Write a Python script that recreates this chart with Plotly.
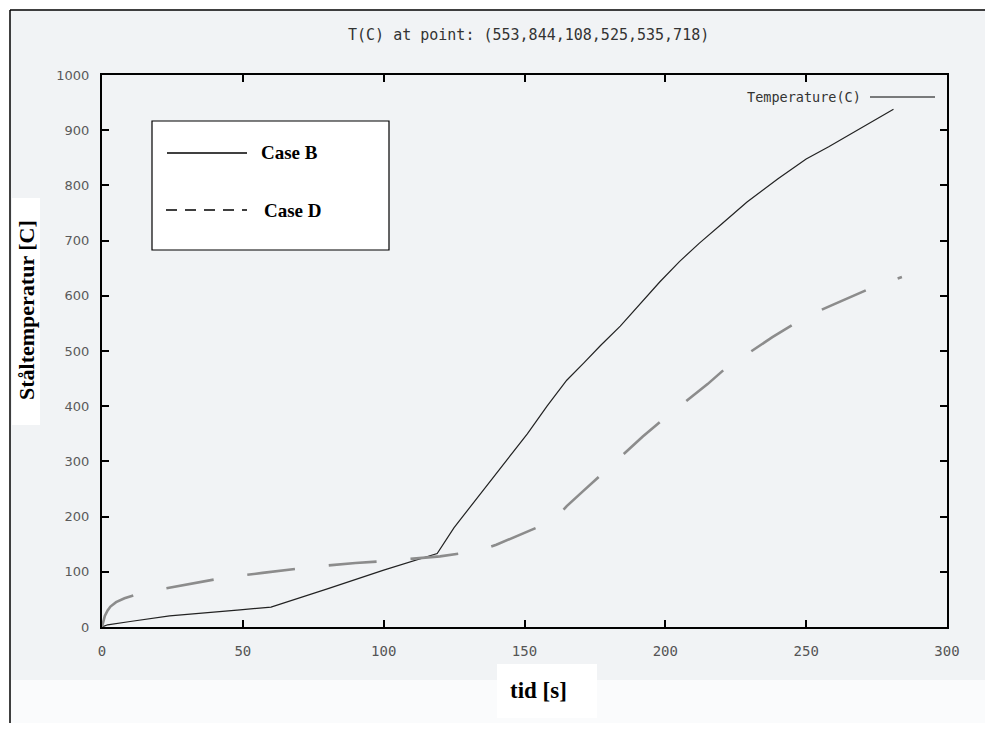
"""
plot.py
------------------------------------
Steel temperature, Case B vs Case D
"""

import plotly.graph_objects as go


# --------------------------------------------------
# Data
# --------------------------------------------------

case_b_time = [0, 2, 10, 24, 49, 60, 80, 100, 119, 125, 134, 141, 147,
               151, 158, 165, 171, 177, 184, 190, 198, 205, 212, 220,
               229, 240, 250, 258, 265, 273, 281]
case_b_temp = [0, 4, 10, 20, 31, 36, 69, 103, 133, 180, 239, 285, 324,
               350, 400, 447, 478, 510, 545, 580, 625, 662, 695, 730,
               770, 812, 848, 870, 891, 914, 938]

case_d_time = [0, 0.5, 1, 2, 3, 5, 8, 14, 25, 43, 57, 75, 90, 102, 120,
               134, 140, 150, 158, 162, 165, 171, 177, 186, 192, 198,
               208, 215, 221, 231, 238, 245, 253, 260, 266, 273, 284]
case_d_temp = [0, 12, 20, 30, 37, 45, 52, 62, 72, 89, 98, 109, 116, 120,
               128, 138, 149, 170, 188, 202, 219, 247, 275, 318, 345,
               371, 411, 440, 467, 502, 525, 547, 569, 585, 598, 614, 634]

x_ticks = [0, 50, 100, 150, 200, 250, 300]
y_ticks = [0, 100, 200, 300, 400, 500, 600, 700, 800, 900, 1000]

title_text = "T(C) at point: (553,844,108,525,535,718)"
x_label = "tid [s]"
y_label = "Ståltemperatur [C]"
gnuplot_key = "Temperature(C)"
case_labels = ["Case B", "Case D"]


# --------------------------------------------------
# Page geometry helpers (screen pixels -> paper)
# --------------------------------------------------

OFF = 8                       # page body margin
W, H = 993 - 2 * OFF, 731 - 2 * OFF
X0, X1, Y0, Y1 = 102, 947, 75, 627   # plot box on screen
L, T = X0 - OFF, Y0 - OFF
R, B = W - (X1 - OFF), H - (Y1 - OFF)


def px(x):
    return (x - X0) / (X1 - X0)


def py(y):
    return (Y1 - y) / (Y1 - Y0)


# --------------------------------------------------
# Figure
# --------------------------------------------------

fig = go.Figure()

fig.add_trace(go.Scatter(
    x=case_b_time,
    y=case_b_temp,
    mode="lines",
    line=dict(color="#222222", width=1.2),
    showlegend=False
))

fig.add_trace(go.Scatter(
    x=case_d_time,
    y=case_d_temp,
    mode="lines",
    line=dict(color="#8c8c8c", width=2.6, dash="48px,34px"),
    showlegend=False
))

axis_common = dict(
    showline=True,
    linecolor="black",
    linewidth=2,
    mirror="allticks",
    ticks="inside",
    ticklen=7,
    tickwidth=2,
    tickcolor="black",
    showgrid=False,
    zeroline=False,
)

fig.update_xaxes(
    range=[0, 300],
    tickvals=x_ticks,
    tickfont=dict(family="DejaVu Sans Mono", size=14, color="#555555"),
    ticklabelstandoff=10,
    **axis_common
)

fig.update_yaxes(
    range=[0, 1000],
    tickvals=y_ticks,
    tickfont=dict(family="DejaVu Sans", size=13, color="#5a5a5a"),
    ticklabelstandoff=8,
    **axis_common
)

shapes = [
    # scanned page background and frame
    dict(type="rect", xref="paper", yref="paper",
         x0=px(10), x1=px(993), y0=py(680), y1=py(10),
         fillcolor="#f1f3f5", line=dict(width=0), layer="below"),
    dict(type="rect", xref="paper", yref="paper",
         x0=px(10), x1=px(993), y0=py(680), y1=py(731),
         fillcolor="#fafbfc", line=dict(width=0), layer="below"),
    dict(type="line", xref="paper", yref="paper",
         x0=px(10), x1=px(10), y0=py(10), y1=py(731),
         line=dict(color="black", width=1.5)),
    dict(type="line", xref="paper", yref="paper",
         x0=px(10), x1=px(993), y0=py(10), y1=py(10),
         line=dict(color="black", width=1.5)),
    # gnuplot key line
    dict(type="line", xref="paper", yref="paper",
         x0=px(870), x1=px(935), y0=py(97), y1=py(97),
         line=dict(color="black", width=1)),
    # pasted legend box
    dict(type="rect", xref="paper", yref="paper",
         x0=px(152), x1=px(389), y0=py(250), y1=py(121),
         fillcolor="white", line=dict(color="black", width=1.2)),
    dict(type="line", xref="paper", yref="paper",
         x0=px(167), x1=px(247), y0=py(153), y1=py(153),
         line=dict(color="black", width=1.3)),
    dict(type="line", xref="paper", yref="paper",
         x0=px(166), x1=px(247), y0=py(210), y1=py(210),
         line=dict(color="black", width=1.3, dash="11px,8px")),
    # white patches behind the pasted axis titles
    dict(type="rect", xref="paper", yref="paper",
         x0=px(497), x1=px(597), y0=py(718), y1=py(664),
         fillcolor="white", line=dict(width=0)),
    dict(type="rect", xref="paper", yref="paper",
         x0=px(12), x1=px(40), y0=py(425), y1=py(198),
         fillcolor="white", line=dict(width=0)),
]

annotations = [
    dict(text=title_text, xref="paper", yref="paper",
         x=px(528), y=py(35), xanchor="center", yanchor="middle",
         showarrow=False,
         font=dict(family="DejaVu Sans Mono", size=15, color="#333333")),
    dict(text=gnuplot_key, xref="paper", yref="paper",
         x=px(863), y=py(97), xanchor="right", yanchor="middle",
         showarrow=False,
         font=dict(family="DejaVu Sans Mono", size=13.5, color="#333333")),
    dict(text="<b>" + case_labels[0] + "</b>", xref="paper", yref="paper",
         x=px(259), y=py(153), xanchor="left", yanchor="middle",
         showarrow=False,
         font=dict(family="Liberation Serif", size=19, color="black")),
    dict(text="<b>" + case_labels[1] + "</b>", xref="paper", yref="paper",
         x=px(262), y=py(210), xanchor="left", yanchor="middle",
         showarrow=False,
         font=dict(family="Liberation Serif", size=19, color="black")),
    dict(text="<b>" + x_label + "</b>", xref="paper", yref="paper",
         x=px(538), y=py(690), xanchor="center", yanchor="middle",
         showarrow=False,
         font=dict(family="Liberation Serif", size=23, color="black")),
    dict(text="<b>" + y_label + "</b>", xref="paper", yref="paper",
         x=px(26), y=py(310), xanchor="center", yanchor="middle",
         showarrow=False, textangle=-90,
         font=dict(family="Liberation Serif", size=22, color="black")),
]

fig.update_layout(
    width=W,
    height=H,
    margin=dict(l=L, r=R, t=T, b=B),
    paper_bgcolor="white",
    plot_bgcolor="#f7f9fb",
    shapes=shapes,
    annotations=annotations,
    showlegend=False
)

fig.write_html("out.html")
